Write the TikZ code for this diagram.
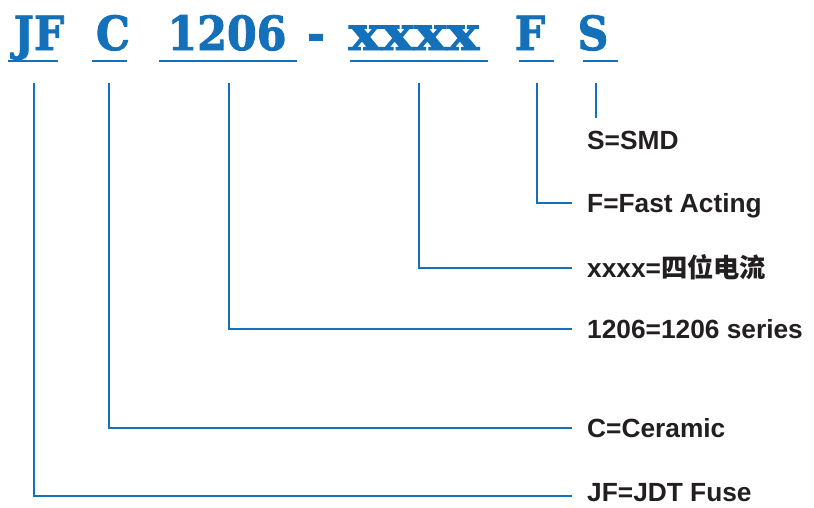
\documentclass[tikz,border=0pt]{standalone}
\usepackage{fontspec}
\setmainfont{Liberation Sans}
\newfontfamily\slab{DejaVu Serif Bold}[FakeBold=2]
\newfontfamily\cjk{Noto Sans CJK SC}
\definecolor{jblue}{HTML}{1570BA}
\definecolor{jtext}{HTML}{231F20}
\begin{document}
\begin{tikzpicture}[x=1pt,y=-1pt,
  code/.style={anchor=base,inner sep=0pt,text=jblue,font=\slab\fontsize{47}{52}\selectfont,xscale=0.91},
  lab/.style={anchor=west,inner sep=0pt,text height=18.5pt,text depth=0pt,text=jtext,font=\bfseries\fontsize{26.3}{30}\selectfont},
  uline/.style={draw=jblue,line width=2.8pt},
  conn/.style={draw=jblue,line width=2.8pt}]
\useasboundingbox[fill=white] (0,0) rectangle (814,507);
% code parts
\node[code] (cJF) at (39,50) {JF};
\node[code] (cC) at (113,50) {C};
\node[code] (c1206) at (227,50) {1206};
\node[code] (cdash) at (316,50) {-};
\node[code,xscale=1.28] (cx) at (414,50) {xxxx};
\node[code] (cF) at (530,50) {F};
\node[code] (cS) at (593,50) {S};
% underlines
\draw[uline] (8,61) -- (58,61);
\draw[uline] (92,61) -- (127,61);
\draw[uline] (159,61) -- (297,61);
\draw[uline] (350,61) -- (488,61);
\draw[uline] (519,61) -- (554,61);
\draw[uline] (583,61) -- (618,61);
% connector tops
\coordinate (tJF) at (34,83);
\coordinate (tC) at (109,83);
\coordinate (t1206) at (229,83);
\coordinate (tx) at (419,83);
\coordinate (tF) at (537,83);
\coordinate (tS) at (596,83);
% labels
\node[lab] (lS) at (587,140) {S=SMD};
\node[lab] (lF) at (587,203) {F=Fast Acting};
\node[lab] (lx) at (587,268) {xxxx={\cjk 四位电流}};
\node[lab] (l1206) at (587,329) {1206=1206 series};
\node[lab] (lC) at (587,428) {C=Ceramic};
\node[lab] (lJF) at (587,492) {JF=JDT Fuse};
% connectors
\draw[conn] (tS) -- ([yshift=13pt]tS |- lS.north);
\draw[conn] (tF) |- ([xshift=-15pt]lF.west);
\draw[conn] (tx) |- ([xshift=-15pt]lx.west);
\draw[conn] (t1206) |- ([xshift=-15pt]l1206.west);
\draw[conn] (tC) |- ([xshift=-15pt]lC.west);
\draw[conn] (tJF) |- ([xshift=-15pt,yshift=-4pt]lJF.west);
\end{tikzpicture}
\end{document}
